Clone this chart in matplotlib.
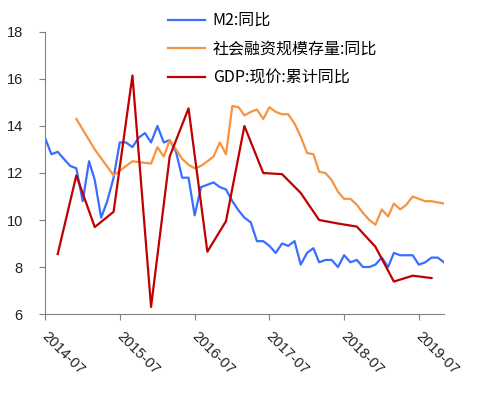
import matplotlib
matplotlib.use('Agg')
import matplotlib.pyplot as plt
import matplotlib.dates as mdates
import matplotlib.transforms as mtransforms
import pandas as pd

plt.rcParams['font.family'] = ['Liberation Sans', 'Noto Sans CJK SC', 'DejaVu Sans']

# M2 同比, monthly 2014-07 .. 2019-11
m2_dates = pd.date_range('2014-07-01', '2019-11-01', freq='MS')
m2 = [13.5, 12.8, 12.9, 12.6, 12.3, 12.2, 10.8, 12.5, 11.7, 10.1, 10.8, 11.8,
      13.3, 13.3, 13.1, 13.5, 13.7, 13.3, 14.0, 13.3, 13.4, 12.9, 11.8, 11.8,
      10.2, 11.4, 11.5, 11.6, 11.4, 11.3, 10.8, 10.4, 10.1, 9.9, 9.1, 9.1,
      8.9, 8.6, 9.0, 8.9, 9.1, 8.1, 8.6, 8.8, 8.2, 8.3, 8.3, 8.0,
      8.5, 8.2, 8.3, 8.0, 8.0, 8.1, 8.4, 8.0, 8.6, 8.5, 8.5, 8.5,
      8.1, 8.2, 8.4, 8.4, 8.2]

# 社会融资规模存量 同比
sf_dates = pd.to_datetime(['2014-12', '2015-03', '2015-06', '2015-09', '2015-12'] +
                          [d.strftime('%Y-%m') for d in pd.date_range('2016-01-01', '2019-11-01', freq='MS')])
sf = [14.3, 13.0, 11.9, 12.5, 12.4,
      13.1, 12.7, 13.4, 13.0, 12.6, 12.35, 12.2, 12.3, 12.5, 12.7, 13.3, 12.8,
      14.85, 14.8, 14.45, 14.6, 14.7, 14.3, 14.8, 14.6, 14.5, 14.5, 14.1, 13.55,
      12.85, 12.8, 12.05, 12.0, 11.7, 11.2, 10.9, 10.9, 10.65, 10.3, 10.0, 9.8,
      10.45, 10.15, 10.7, 10.45, 10.65, 11.0, 10.9, 10.8, 10.8, 10.75, 10.7]

# GDP 现价 累计同比, quarterly
gdp_dates = pd.to_datetime(['2014-09', '2014-12', '2015-03', '2015-06', '2015-09', '2015-12',
                            '2016-03', '2016-06', '2016-09', '2016-12', '2017-03', '2017-06',
                            '2017-09', '2017-12', '2018-03', '2018-06', '2018-09', '2018-12',
                            '2019-03', '2019-06', '2019-09'])
gdp = [8.55, 11.9, 9.7, 10.35, 16.15, 6.3, 12.7, 14.75, 8.65, 9.95, 14.0, 12.0,
       11.95, 11.15, 10.0, 9.85, 9.72, 8.86, 7.38, 7.63, 7.53]

xticks = pd.to_datetime(['2014-07', '2015-07', '2016-07', '2017-07', '2018-07', '2019-07'])

fig = plt.figure(figsize=(4.98, 3.93), dpi=100)
ax = fig.add_axes([0.0904, 0.201, 0.8012, 0.7176])

ax.plot(m2_dates, m2, color='#3A6EFF', lw=1.6, label='M2:同比')
ax.plot(sf_dates, sf, color='#F7943F', lw=1.6, label='社会融资规模存量:同比')
ax.plot(gdp_dates, gdp, color='#C00000', lw=1.6, label='GDP:现价:累计同比')

ax.set_ylim(6, 18)
ax.set_yticks(range(6, 19, 2))
ax.set_xlim(m2_dates[0], m2_dates[-1])
ax.set_xticks(xticks)
ax.xaxis.set_major_formatter(mdates.DateFormatter('%Y-%m'))

for s in ['top', 'right']:
    ax.spines[s].set_visible(False)
for s in ['left', 'bottom']:
    ax.spines[s].set_color('#808080')
ax.tick_params(axis='both', colors='#808080', length=4, labelcolor='#222222', labelsize=10.5)
ax.tick_params(axis='y', pad=12)
ax.tick_params(axis='x', pad=6)
shift = mtransforms.ScaledTranslation(4 / 100, -1 / 100, fig.dpi_scale_trans)
for lab in ax.get_xticklabels():
    lab.set_rotation(-45)
    lab.set_ha('left')
    lab.set_va('top')
    lab.set_rotation_mode('anchor')
    lab.set_transform(lab.get_transform() + shift)

leg = ax.legend(loc='upper left', bbox_to_anchor=(168 / 498, 0.969), bbox_transform=fig.transFigure,
                frameon=False, borderpad=0, borderaxespad=0, handlelength=2.3, handletextpad=0.5,
                labelspacing=0.72, prop={'family': ['Noto Sans CJK SC', 'DejaVu Sans'], 'size': 11.5})

fig.savefig('out.png', dpi=100)
